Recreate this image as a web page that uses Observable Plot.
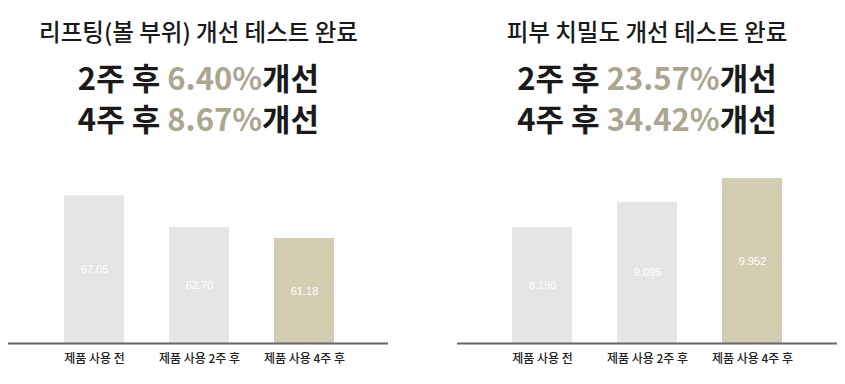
<!DOCTYPE html>
<html>
<head>
<meta charset="utf-8">
<script src="https://cdn.jsdelivr.net/npm/d3@7"></script>
<script src="https://cdn.jsdelivr.net/npm/@observablehq/plot@0.6"></script>
<style>
  html, body { margin: 0; padding: 0; background: #fff; }
  #wrap { position: relative; width: 845px; height: 384px; overflow: hidden; font-family: "Noto Sans CJK KR", "Noto Sans", sans-serif; color: #1a1a1a; }
  .t { position: absolute; text-align: center; white-space: nowrap; }
  .t1 { font-size: 23.5px; font-weight: 500; line-height: 30px; }
  .t2 { font-size: 31px; font-weight: 600; line-height: 40px; }
  .pct { color: #aaa690; }
  .chart { position: absolute; top: 150px; }
</style>
</head>
<body>
<div id="wrap"></div>
<script>
// ---- data ----
const categories = ["제품 사용 전", "제품 사용 2주 후", "제품 사용 4주 후"];

const liftTitle = "리프팅(볼 부위) 개선 테스트 완료";
const liftWeeks = ["2주 후 ", "4주 후 "];
const liftPercents = ["6.40%", "8.67%"];
const liftValues = [67.05, 62.70, 61.18];
const liftLabels = ["67.05", "62.70", "61.18"];

const densityTitle = "피부 치밀도 개선 테스트 완료";
const densityWeeks = ["2주 후 ", "4주 후 "];
const densityPercents = ["23.57%", "34.42%"];
const densityValues = [8.190, 9.095, 9.952];
const densityLabels = ["8.190", "9.095", "9.952"];

const suffix = "개선";
const barColors = ["#e5e5e5", "#e5e5e5", "#d3cdb1"];

const wrap = document.getElementById("wrap");

function addTitles(title, weeks, percents, left, width) {
  const t = document.createElement("div");
  t.className = "t t1";
  t.style.left = left + "px"; t.style.width = width + "px"; t.style.top = "16px";
  t.textContent = title;
  wrap.appendChild(t);
  weeks.forEach((w, i) => {
    const d = document.createElement("div");
    d.className = "t t2";
    d.style.left = left + "px"; d.style.width = width + "px";
    d.style.top = (57 + i * 41) + "px";
    const a = document.createTextNode(w);
    const s = document.createElement("span"); s.className = "pct"; s.textContent = percents[i];
    const b = document.createTextNode(suffix);
    d.appendChild(a); d.appendChild(s); d.appendChild(b);
    wrap.appendChild(d);
  });
}

function panel(values, labels, domain, opts) {
  const data = categories.map((c, i) => ({cat: c, value: values[i], label: labels[i]}));
  const base = domain[0];
  return Plot.plot({
    width: opts.width,
    height: 234,
    marginTop: 24,
    marginBottom: 41,
    marginLeft: opts.marginLeft,
    marginRight: opts.marginRight,
    style: {fontFamily: "'Noto Sans CJK KR', 'Noto Sans', sans-serif", background: "transparent", overflow: "visible"},
    x: {domain: categories, range: opts.range, paddingInner: 0.43, paddingOuter: 0.215},
    y: {domain, axis: null},
    color: {domain: categories, range: barColors},
    marks: [
      Plot.barY(data, {x: "cat", y1: base, y2: "value", fill: "cat"}),
      Plot.text(data, {x: "cat", y: d => (d.value + base) / 2, text: "label", fill: "#ffffff", fontSize: 11, fontFamily: "'Liberation Sans', Arial, sans-serif"}),
      Plot.ruleY([base], {stroke: "#666666", strokeWidth: 2}),
      Plot.axisX({tickSize: 0, tickPadding: 11, fontSize: 12, fill: "#222222", fontWeight: 500, label: null})
    ]
  });
}

addTitles(liftTitle, liftWeeks, liftPercents, 0, 397);
addTitles(densityTitle, densityWeeks, densityPercents, 447, 400);

const left = panel(liftValues, liftLabels, [46.7, 70], {width: 422, marginLeft: 8, marginRight: 34, range: [41.5, 356.5]});
left.classList.add("chart"); left.style.left = "0px";
wrap.appendChild(left);

const right = panel(densityValues, densityLabels, [4.0, 10.1], {width: 423, marginLeft: 35, marginRight: 8, range: [67.5, 382.5]});
right.classList.add("chart"); right.style.left = "422px";
wrap.appendChild(right);
</script>
</body>
</html>
